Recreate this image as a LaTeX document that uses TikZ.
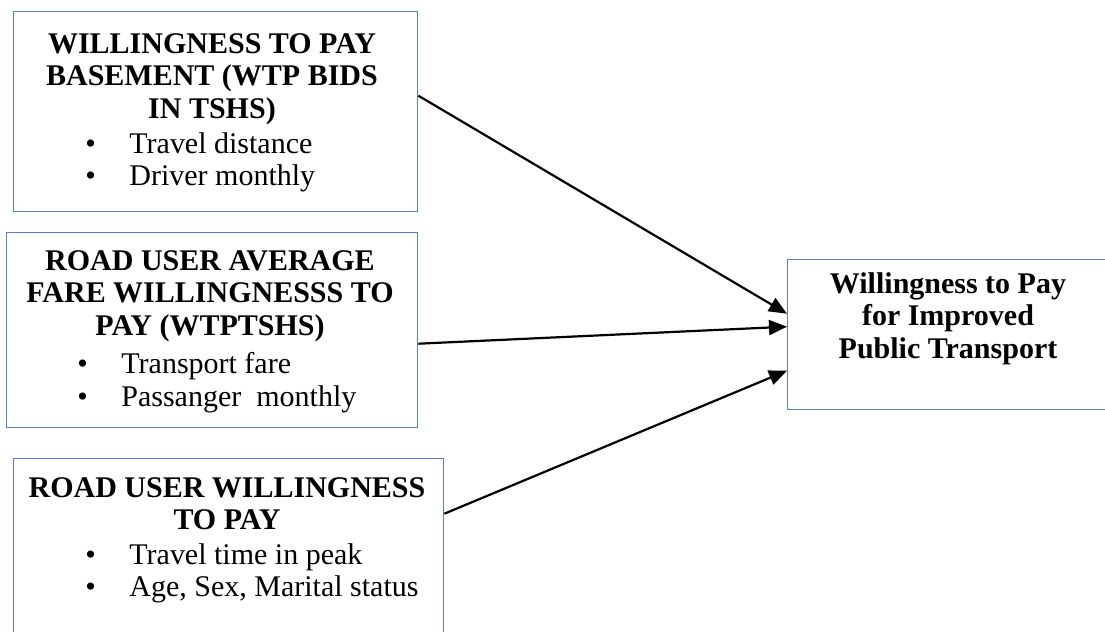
\documentclass[tikz,border=0pt]{standalone}
\usepackage{fontspec}
\setmainfont{Liberation Serif}
\usetikzlibrary{arrows.meta}
\definecolor{boxblue}{RGB}{84,128,202}
\newcommand{\itembullet}{\makebox[22pt][l]{\textbullet}}

\begin{document}
\begin{tikzpicture}[x=0.5pt, y=-0.5pt,
  box/.style={draw=boxblue, line width=0.7pt, inner sep=0pt, anchor=north west},
  headtxt/.style={font=\fontsize{15}{16.25}\selectfont\bfseries, align=center, anchor=north, inner sep=0pt},
  itemtxt/.style={font=\fontsize{15}{16.25}\selectfont, align=left, anchor=north west, inner sep=0pt},
  link/.style={-{Triangle[length=9pt,width=7.5pt]}, line width=1.1pt}]
  \useasboundingbox (0,0) rectangle (1105,632);
  \clip (0,0) rectangle (1105,632);
  % 三个输入框
  \node[box, minimum width=202pt, minimum height=100pt] (bids) at (13,11) {};
  \node[box, minimum width=205.5pt, minimum height=97.5pt] (fare) at (6,232) {};
  \node[box, minimum width=215pt, minimum height=95pt] (socio) at (13,458) {};
  % 结果框
  \node[box, minimum width=161.5pt, minimum height=75pt] (wtp) at (787,259) {};
  % 框内文字
  \node[headtxt] (bidshead) at (212,33) {WILLINGNESS TO PAY\\BASEMENT (WTP BIDS\\IN TSHS)};
  \node[itemtxt] (bidsitems) at (85,132) {\itembullet Travel distance\\\itembullet Driver monthly};
  \node[headtxt] (farehead) at (210,250) {ROAD USER AVERAGE\\FARE WILLINGNESSS TO\\PAY (WTPTSHS)};
  \node[itemtxt] (fareitems) at (77,352) {\itembullet Transport fare\\\itembullet Passanger~ monthly};
  \node[headtxt] (sociohead) at (227,477) {ROAD USER WILLINGNESS\\TO PAY};
  \node[itemtxt] (socioitems) at (85,543) {\itembullet Travel time in peak\\\itembullet Age, Sex, Marital status};
  \node[headtxt] (wtphead) at (948,272) {Willingness to Pay\\for Improved\\Public Transport};
  % 箭头
  \draw[link] ([yshift=8pt]bids.east) -- ([yshift=10.5pt]wtp.west);
  \draw[link] ([yshift=-6.75pt]fare.east) -- ([yshift=4pt]wtp.west);
  \draw[link] ([yshift=20pt]socio.east) -- ([yshift=-18pt]wtp.west);
\end{tikzpicture}
\end{document}
